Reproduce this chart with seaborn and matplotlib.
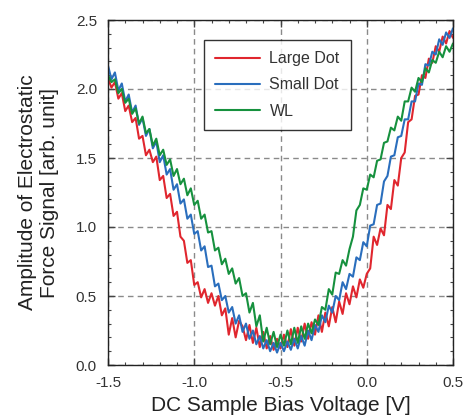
import numpy as np
import pandas as pd
import matplotlib
matplotlib.use("Agg")
import matplotlib.pyplot as plt
import seaborn as sns
from matplotlib.ticker import MultipleLocator

# DC sample bias sweep (V)
bias_v = np.round(np.arange(-1.50, 0.5001, 0.02), 2)

large_dot = [2.08, 2.01, 2.05, 1.93, 1.97, 1.84, 1.88, 1.76, 1.79, 1.64,
             1.66, 1.52, 1.56, 1.47, 1.51, 1.34, 1.37, 1.21, 1.24, 1.08,
             1.11, 0.93, 0.90, 0.74, 0.76, 0.58, 0.60, 0.49, 0.55, 0.45,
             0.52, 0.43, 0.50, 0.36, 0.41, 0.22, 0.34, 0.20, 0.32, 0.28,
             0.18, 0.29, 0.16, 0.27, 0.13, 0.24, 0.12, 0.21, 0.11, 0.19,
             0.12, 0.22, 0.13, 0.26, 0.14, 0.27, 0.17, 0.30, 0.19, 0.31,
             0.22, 0.36, 0.24, 0.38, 0.28, 0.42, 0.31, 0.46, 0.37, 0.52,
             0.44, 0.57, 0.49, 0.62, 0.56, 0.66, 0.70, 0.93, 0.87, 0.99,
             0.94, 1.16, 1.13, 1.34, 1.30, 1.50, 1.54, 1.76, 1.78, 1.95,
             1.96, 2.10, 2.08, 2.22, 2.19, 2.31, 2.27, 2.38, 2.33, 2.42,
             2.37]

small_dot = [2.17, 2.07, 2.12, 1.99, 2.04, 1.91, 1.96, 1.83, 1.88, 1.74,
             1.79, 1.66, 1.71, 1.57, 1.62, 1.47, 1.52, 1.38, 1.42, 1.27,
             1.31, 1.17, 1.20, 1.06, 1.09, 0.95, 0.97, 0.83, 0.86, 0.71,
             0.72, 0.57, 0.59, 0.47, 0.50, 0.38, 0.42, 0.30, 0.36, 0.24,
             0.30, 0.19, 0.25, 0.15, 0.21, 0.12, 0.18, 0.10, 0.16, 0.09,
             0.16, 0.10, 0.17, 0.11, 0.19, 0.12, 0.21, 0.14, 0.25, 0.18,
             0.29, 0.24, 0.36, 0.31, 0.43, 0.38, 0.50, 0.47, 0.60, 0.55,
             0.66, 0.64, 0.78, 0.76, 0.89, 0.86, 1.01, 1.02, 1.16, 1.17,
             1.33, 1.37, 1.51, 1.52, 1.65, 1.66, 1.78, 1.78, 1.91, 1.91,
             2.04, 2.03, 2.18, 2.17, 2.27, 2.25, 2.36, 2.32, 2.41, 2.37,
             2.44]

wl = [2.10, 2.05, 2.07, 1.97, 2.00, 1.90, 1.93, 1.82, 1.86, 1.75,
      1.80, 1.68, 1.71, 1.59, 1.64, 1.52, 1.56, 1.45, 1.49, 1.37,
      1.42, 1.31, 1.35, 1.23, 1.28, 1.16, 1.19, 1.06, 1.09, 0.96,
      0.97, 0.83, 0.85, 0.73, 0.77, 0.66, 0.70, 0.59, 0.63, 0.50,
      0.52, 0.38, 0.45, 0.28, 0.36, 0.17, 0.27, 0.15, 0.24, 0.13,
      0.22, 0.14, 0.25, 0.15, 0.27, 0.16, 0.28, 0.19, 0.30, 0.23,
      0.33, 0.29, 0.42, 0.40, 0.55, 0.51, 0.67, 0.66, 0.76, 0.72,
      0.84, 0.93, 1.12, 1.16, 1.28, 1.27, 1.38, 1.36, 1.48, 1.49,
      1.61, 1.62, 1.72, 1.70, 1.80, 1.77, 1.91, 1.91, 2.01, 1.98,
      2.08, 2.05, 2.15, 2.12, 2.21, 2.19, 2.27, 2.23, 2.31, 2.27,
      2.33]

series_names = ["Large Dot", "Small Dot", "WL"]
series_colors = ["#e0262e", "#2a6ebd", "#16913e"]

df = pd.concat([
    pd.DataFrame({"bias": bias_v, "amp": vals, "series": name})
    for name, vals in zip(series_names, [large_dot, small_dot, wl])
], ignore_index=True)

sns.set_style("white")
plt.rcParams["font.family"] = ["Liberation Sans", "DejaVu Sans"]

fig = plt.figure(figsize=(4.66, 4.19), dpi=100)
ax = fig.add_axes([108/466, 1 - 365/419, 345/466, 345/419])

sns.lineplot(data=df, x="bias", y="amp", hue="series",
             hue_order=series_names, palette=series_colors,
             linewidth=1.5, ax=ax, estimator=None, sort=False)

ax.set_xlim(-1.5, 0.5)
ax.set_ylim(0.0, 2.5)
ax.xaxis.set_major_locator(MultipleLocator(0.5))
ax.xaxis.set_minor_locator(MultipleLocator(0.1))
ax.yaxis.set_major_locator(MultipleLocator(0.5))
ax.yaxis.set_minor_locator(MultipleLocator(0.1))
ax.xaxis.set_major_formatter(matplotlib.ticker.FormatStrFormatter("%.1f"))
ax.yaxis.set_major_formatter(matplotlib.ticker.FormatStrFormatter("%.1f"))

ax.tick_params(which="both", direction="in", top=True, right=True,
               bottom=True, left=True, colors="#444444", labelcolor="#333333")
ax.tick_params(which="major", length=5, width=1, labelsize=11, pad=8)
ax.tick_params(which="minor", length=2.5, width=0.8)

ax.grid(True, which="major", linestyle=(0, (4, 3)), color="#8a8a8a", linewidth=1)
for s in ax.spines.values():
    s.set_visible(True)
    s.set_color("#222222")
    s.set_linewidth(1)

ax.set_xlabel("DC Sample Bias Voltage [V]", fontsize=15, color="#222222", labelpad=4)
ax.set_ylabel("Amplitude of Electrostatic\nForce Signal [arb. unit]", fontsize=15,
              color="#222222", labelpad=12)

leg = ax.legend(loc="upper left", bbox_to_anchor=(96/345, 1 - 20/345),
                borderaxespad=0, frameon=True, fancybox=False, edgecolor="black",
                fontsize=11.5, handlelength=2.8, borderpad=0.7, labelspacing=0.7,
                handletextpad=0.6)
leg.get_frame().set_linewidth(1)
for t in leg.get_texts():
    t.set_color("#333333")

fig.savefig("out.png", dpi=100)
